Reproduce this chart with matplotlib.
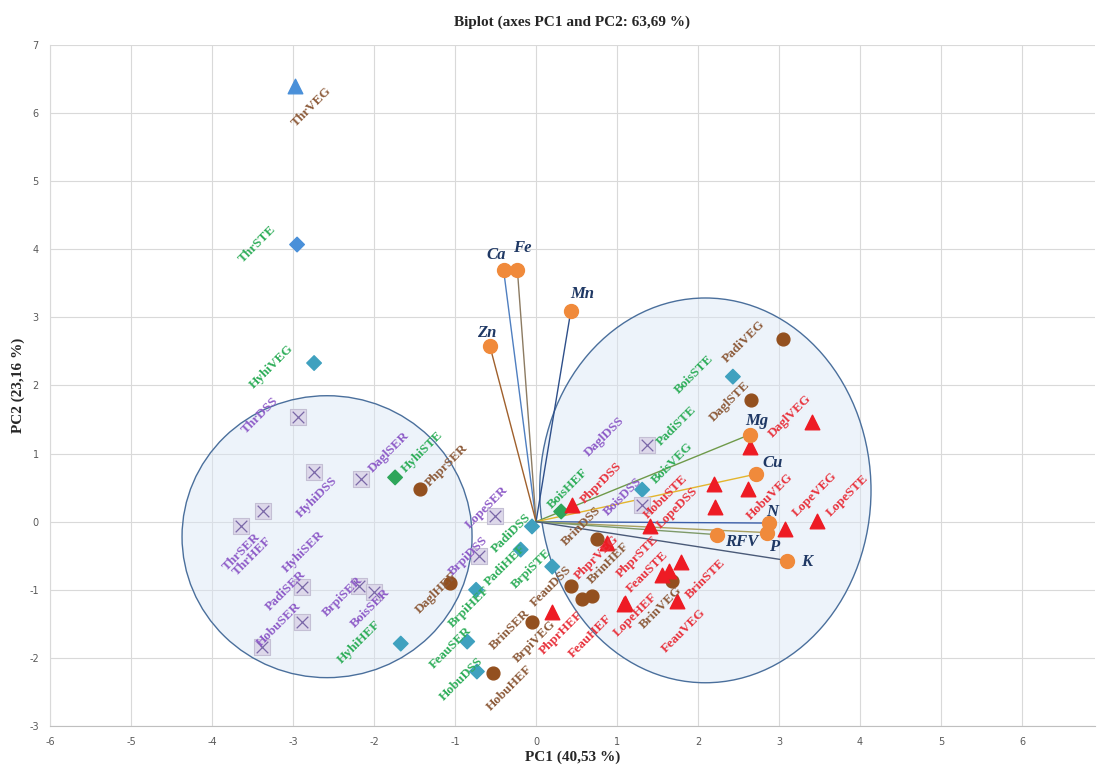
import numpy as np
import matplotlib
matplotlib.use("Agg")
import matplotlib.pyplot as plt
from matplotlib.patches import Ellipse

plt.rcParams["axes.unicode_minus"] = False

# variables (loadings, drawn as vectors from the origin)
var_names = ["Ca", "Fe", "Mn", "Zn", "Mg", "Cu", "N", "P", "RFV", "K"]
var_x = [-0.40, -0.23, 0.43, -0.57, 2.64, 2.72, 2.88, 2.85, 2.23, 3.10]
var_y = [3.69, 3.69, 3.10, 2.58, 1.28, 0.70, -0.02, -0.16, -0.19, -0.57]

# observations, green labels (diamonds)
grn_names = ["ThrSTE", "HyhiVEG", "HyhiSTE", "HyhiHEF", "BrpiHEF", "PadiHEF", "FeauSER",
             "HobuDSS", "PadiDSS", "BrpiSTE", "BoisHEF", "BoisVEG", "PadiSTE", "BoisSTE"]
grn_x = [-2.95, -2.74, -1.74, -1.67, -0.74, -0.19, -0.85, -0.73, -0.05, 0.20, 0.31, 1.31, 1.37, 2.43]
grn_y = [4.07, 2.33, 0.65, -1.79, -1.00, -0.41, -1.76, -2.20, -0.07, -0.66, 0.15, 0.47, 1.12, 2.13]

# observations, purple labels (crossed squares)
pur_names = ["ThrDSS", "HyhiDSS", "DaglSER", "ThrHEF", "ThrSER", "HyhiSER", "PadiSER",
             "HobuSER", "BrpiSER", "BoisSER", "LopeSER", "BrpiDSS", "DaglDSS", "BoisDSS"]
pur_x = [-2.94, -2.74, -2.16, -3.37, -3.64, -2.89, -2.89, -3.38, -2.19, -2.00, -0.51, -0.70, 1.37, 1.31]
pur_y = [1.54, 0.73, 0.63, 0.15, -0.07, -0.96, -1.48, -1.84, -0.95, -1.03, 0.09, -0.51, 1.12, 0.24]

# observations, brown labels (circles)
brn_names = ["ThrVEG", "PhprSER", "DaglHEF", "BrinSER", "BrinHEF", "BrpiVEG", "FeauDSS",
             "BrinDSS", "BrinVEG", "DaglSTE", "PadiVEG", "HobuHEF"]
brn_x = [-2.98, -1.43, -1.06, -0.05, 0.69, 0.57, 0.43, 0.75, 1.68, 2.65, 3.05, -0.53]
brn_y = [6.40, 0.48, -0.90, -1.47, -1.09, -1.13, -0.95, -0.26, -0.87, 1.78, 2.69, -2.22]

# observations, red labels (triangles)
red_names = ["PhprHEF", "PhprDSS", "PhprVEG", "LopeHEF", "FeauHEF", "HobuSTE", "FeauSTE",
             "PhprSTE", "BrinSTE", "FeauVEG", "LopeDSS", "", "", "HobuVEG", "DaglVEG",
             "LopeVEG", "LopeSTE"]
red_x = [0.20, 0.44, 0.88, 1.10, 1.09, 1.41, 1.56, 1.64, 1.79, 1.74, 2.20, 2.21, 2.64, 2.62,
         3.41, 3.07, 3.47]
red_y = [-1.32, 0.25, -0.32, -1.20, -1.21, -0.06, -0.78, -0.73, -0.59, -1.17, 0.56, 0.22,
         1.10, 0.48, 1.47, -0.10, 0.01]

# label offsets in pixels (right, down)
var_off = [(-7, -15), (5, -22), (11, -17), (-3, -13), (7, -14), (16, -11), (3, -11),
           (7, 14), (25, 7), (20, 1)]
grn_off = [(-40, 0), (-43, 4), (27, -25), (-42, -1), (-7, 17), (-15, 15), (-16, 6),
           (-15, 8), (-21, 7), (-21, 2), (7, -23), (30, -27), (30, -20), (-39, -2)]
pur_off = [(-38, -1), (3, 25), (28, -27), (-11, 45), (0, 25), (2, -35), (-16, -32),
           (17, -22), (-16, 10), (-4, 16), (-8, -8), (-11, 0), (-43, -9), (-19, -9)]
brn_off = [(17, 21), (27, -24), (-14, 10), (-22, 8), (16, -33), (-47, 43), (-20, 0),
           (-15, -13), (-11, 27), (-21, 1), (-39, 3), (16, 15)]
red_off = [(9, 21), (30, -22), (-11, 14), (10, 11), (-34, 32), (15, -29), (-15, -3),
           (-31, -15), (25, 17), (7, 29), (-37, 24), (0, 0), (0, 0), (22, 8), (-22, -5),
           (30, -34), (30, -25)]

var_colors = ["#4f7fc0", "#8c7b62", "#2e4f8a", "#a0602c", "#6f9a4a", "#e3b52d",
              "#3b5ea8", "#a8a060", "#7e9a6a", "#4a5a78"]

SERIF = ["Liberation Serif", "DejaVu Serif"]
PX = 72 / 100.0

fig = plt.figure(figsize=(10.97, 7.66), dpi=100)
ax = fig.add_axes([50 / 1097, 40 / 766, 1045 / 1097, 681 / 766])
ax.set_xlim(-6, 6.9)
ax.set_ylim(-3, 7)
ax.set_xticks(np.arange(-6, 7, 1))
ax.set_yticks(np.arange(-3, 8, 1))
ax.grid(True, color="#d9d9d9", linewidth=0.8, zorder=0)
ax.set_axisbelow(True)
for s in ["top", "right"]:
    ax.spines[s].set_visible(False)
ax.spines["left"].set_color("#d9d9d9")
ax.spines["bottom"].set_color("#bfbfbf")
ax.tick_params(length=0, labelsize=7, labelcolor="#595959", pad=8)

# confidence ellipses
ax.add_patch(Ellipse((-2.58, -0.22), 3.58, 4.14, facecolor=(0.85, 0.9, 0.96, 0.45),
                     edgecolor="#4a6f9c", linewidth=1.0, zorder=1))
ax.add_patch(Ellipse((2.09, 0.46), 4.09, 5.65, facecolor=(0.85, 0.9, 0.96, 0.45),
                     edgecolor="#4a6f9c", linewidth=1.0, zorder=1))

# variable vectors
for x, y, c in zip(var_x, var_y, var_colors):
    ax.plot([0, x], [0, y], color=c, linewidth=1.0, zorder=2)

# markers
grn_mcol = []
for n in grn_names:
    if n == "ThrSTE":
        grn_mcol.append("#4a90d9")
    elif n in ("HyhiSTE", "BoisHEF"):
        grn_mcol.append("#2ea65a")
    else:
        grn_mcol.append("#3fa1bf")
ax.scatter(grn_x, grn_y, marker="D", s=55, c=grn_mcol, zorder=3)
ax.scatter(pur_x, pur_y, marker="s", s=130, facecolor="#ddd8ea", edgecolor="#c4bfd4",
           linewidth=0.8, zorder=3)
ax.scatter(pur_x, pur_y, marker="x", s=70, color="#7a68a8", linewidth=0.9, zorder=4)
ax.scatter(brn_x[1:], brn_y[1:], marker="o", s=85, color="#93501f", zorder=3)
ax.scatter(brn_x[:1], brn_y[:1], marker="^", s=110, color="#4a90d9", zorder=3)
ax.scatter(red_x, red_y, marker="^", s=110, color="#ee1b24", zorder=3)
ax.scatter(var_x, var_y, marker="o", s=100, color="#f08a3b", zorder=4)


def put_labels(names, xs, ys, offs, color):
    for n, x, y, (dx, dy) in zip(names, xs, ys, offs):
        if not n:
            continue
        ax.annotate(n, (x, y), xytext=(dx * PX, -dy * PX), textcoords="offset points",
                    rotation=45, ha="center", va="center", fontsize=9.5,
                    fontweight="bold", family=SERIF, color=color, zorder=5)


put_labels(grn_names, grn_x, grn_y, grn_off, "#2fae5a")
put_labels(pur_names, pur_x, pur_y, pur_off, "#8e5cc8")
put_labels(brn_names, brn_x, brn_y, brn_off, "#8d5b3a")
put_labels(red_names, red_x, red_y, red_off, "#e8333d")

for n, x, y, (dx, dy) in zip(var_names, var_x, var_y, var_off):
    ax.annotate(n, (x, y), xytext=(dx * PX, -dy * PX), textcoords="offset points",
                ha="center", va="center", fontsize=12, fontweight="bold",
                fontstyle="italic", family=SERIF, color="#1f3864", zorder=5)

ax.set_title("Biplot (axes PC1 and PC2: 63,69 %)", fontsize=11, fontweight="bold",
             family=SERIF, color="#262626", pad=14)
ax.set_xlabel("PC1 (40,53 %)", fontsize=11, fontweight="bold", family=SERIF,
              color="#262626", va="center")
ax.xaxis.set_label_coords(0.5, -0.046)
ax.set_ylabel("PC2 (23,16 %)", fontsize=11, fontweight="bold", family=SERIF,
              color="#262626", va="center")
ax.yaxis.set_label_coords(-0.030, 0.5)

fig.savefig("out.png", dpi=100)
